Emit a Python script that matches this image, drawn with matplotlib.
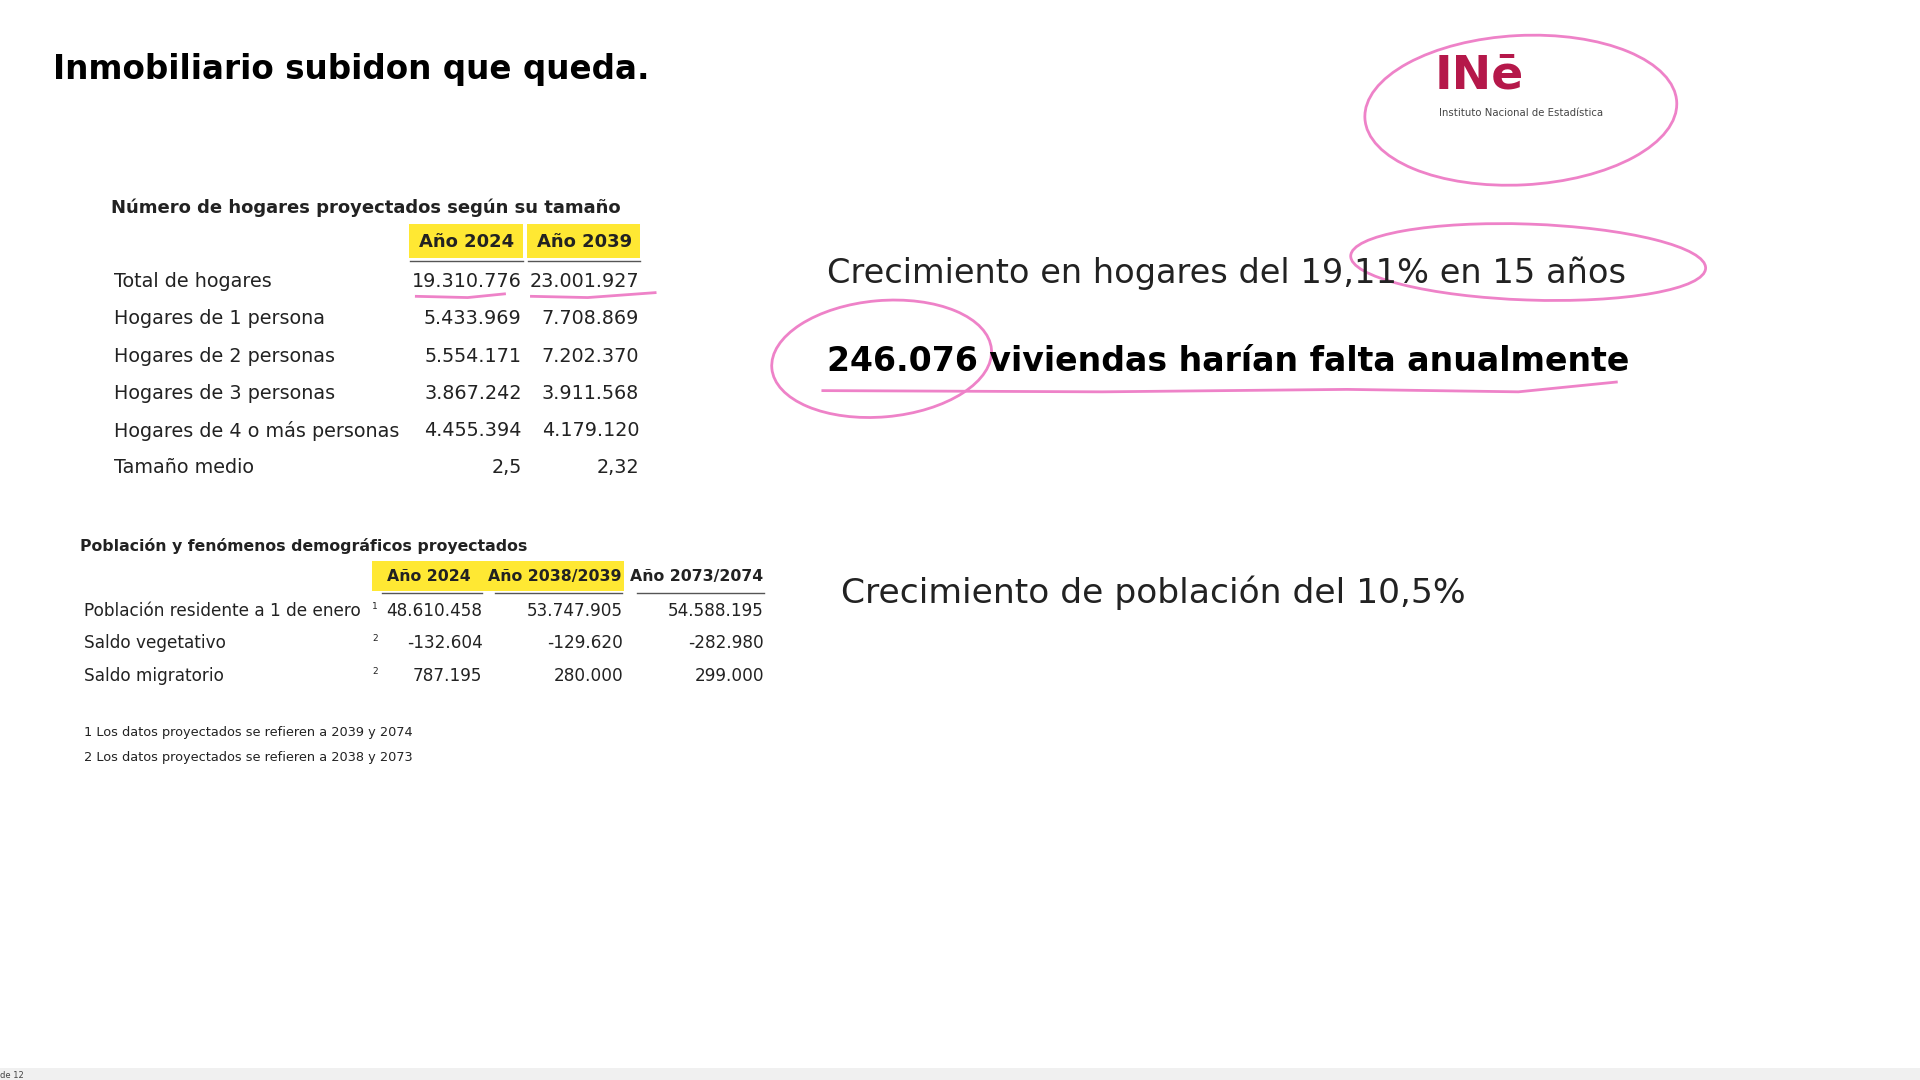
import numpy as np
import matplotlib.pyplot as plt
from matplotlib.patches import Rectangle, Ellipse

title = "Inmobiliario subidon que queda."

hog_title = "Número de hogares proyectados según su tamaño"
hog_years = ["Año 2024", "Año 2039"]
hog_rows = ["Total de hogares", "Hogares de 1 persona", "Hogares de 2 personas",
            "Hogares de 3 personas", "Hogares de 4 o más personas", "Tamaño medio"]
hog_2024 = ["19.310.776", "5.433.969", "5.554.171", "3.867.242", "4.455.394", "2,5"]
hog_2039 = ["23.001.927", "7.708.869", "7.202.370", "3.911.568", "4.179.120", "2,32"]

pob_title = "Población y fenómenos demográficos proyectados"
pob_years = ["Año 2024", "Año 2038/2039", "Año 2073/2074"]
pob_rows = ["Población residente a 1 de enero", "Saldo vegetativo", "Saldo migratorio"]
pob_notes = ["1", "2", "2"]
pob_2024 = ["48.610.458", "-132.604", "787.195"]
pob_2039 = ["53.747.905", "-129.620", "280.000"]
pob_2074 = ["54.588.195", "-282.980", "299.000"]
footnotes = ["1 Los datos proyectados se refieren a 2039 y 2074",
             "2 Los datos proyectados se refieren a 2038 y 2073"]

claim1 = "Crecimiento en hogares del 19,11% en 15 años"
claim2 = "246.076 viviendas harían falta anualmente"
claim3 = "Crecimiento de población del 10,5%"

PINK = "#ee82c8"
YEL = "#ffe833"
TXT = "#222222"
TF = "DejaVu Sans"

fig = plt.figure(figsize=(19.2, 10.8), dpi=100)
ax = fig.add_axes([0, 0, 1, 1])
ax.set_xlim(0, 1568)
ax.set_ylim(882, 0)
ax.axis("off")

ax.text(43, 57, title, fontsize=23.5, fontweight="bold", family=TF, va="center", color="black")

# households table
ax.text(91, 170, hog_title, fontsize=13, fontweight="bold", family=TF, va="center", color=TXT)
for i, (yr, xr) in enumerate(zip(hog_years, [427, 523])):
    ax.add_patch(Rectangle((xr - 93, 183), 93, 28, color=YEL, lw=0))
    ax.text(xr - 46, 198, yr, fontsize=13, fontweight="bold", family=TF,
            ha="center", va="center", color=TXT)
    ax.plot([xr - 92, xr], [213, 213], color="#555555", lw=1)
for j, name in enumerate(hog_rows):
    y = 230 + j * 30.4
    ax.text(93, y, name, fontsize=13.8, family=TF, va="center", color=TXT)
    ax.text(426, y, hog_2024[j], fontsize=13.8, family=TF, va="center", ha="right", color=TXT)
    ax.text(522, y, hog_2039[j], fontsize=13.8, family=TF, va="center", ha="right", color=TXT)

# population table
ax.text(65, 446, pob_title, fontsize=11.3, fontweight="bold", family=TF, va="center", color=TXT)
for xl, xr, yr, hl in [(304, 396, pob_years[0], True), (396, 510, pob_years[1], True),
                       (512, 626, pob_years[2], False)]:
    if hl:
        ax.add_patch(Rectangle((xl, 458), xr - xl, 25, color=YEL, lw=0))
    ax.text((xl + xr) / 2, 471, yr, fontsize=11.3, fontweight="bold", family=TF,
            ha="center", va="center", color=TXT)
    ax.plot([xl + 8, xr - 2], [484, 484], color="#555555", lw=1)
for j, name in enumerate(pob_rows):
    y = 499 + j * 26.5
    ax.text(69, y, name, fontsize=12.2, family=TF, va="center", color=TXT)
    ax.text(306, y - 4, pob_notes[j], fontsize=6.5, family=TF, va="center", ha="center", color=TXT)
    ax.text(394, y, pob_2024[j], fontsize=12.2, family=TF, va="center", ha="right", color=TXT)
    ax.text(509, y, pob_2039[j], fontsize=12.2, family=TF, va="center", ha="right", color=TXT)
    ax.text(624, y, pob_2074[j], fontsize=12.2, family=TF, va="center", ha="right", color=TXT)
for j, note in enumerate(footnotes):
    ax.text(69, 598 + j * 21, note, fontsize=9.3, family=TF, va="center", color=TXT)

# claims
ax.text(675, 223, claim1, fontsize=24.2, family=TF, va="center", color="#222222")
ax.text(675, 295, claim2, fontsize=23.9, family=TF, fontweight="bold", va="center", color="black")
ax.text(687, 484, claim3, fontsize=24.8, family=TF, va="center", color="#222222")

# INE logo
ax.text(1172, 62, "INē", fontsize=34, fontweight="bold", family=TF, va="center",
        color="#b5184a")
ax.text(1175, 92, "Instituto Nacional de Estadística", fontsize=7.3, family=TF,
        va="center", color="#444444")

# pink annotations
ax.add_patch(Ellipse((1242, 90), 255, 122, angle=-3, fill=False, ec=PINK, lw=2))
ax.add_patch(Ellipse((1248, 214), 290, 62, angle=2, fill=False, ec=PINK, lw=2))
ax.add_patch(Ellipse((720, 293), 180, 95, angle=-5, fill=False, ec=PINK, lw=2))
ax.plot([672, 900, 1100, 1240, 1320], [319, 320, 318, 320, 312], color=PINK, lw=2)
ax.plot([340, 382, 412], [242, 243, 240], color=PINK, lw=2)
ax.plot([434, 480, 535], [242, 243, 239], color=PINK, lw=2)

# bottom bar
ax.add_patch(Rectangle((0, 872), 1568, 10, color="#f0f0f0", lw=0))
ax.text(0, 878, "de 12", fontsize=6, va="center", color="#444444")

fig.savefig("out.png", dpi=100, facecolor="white")
